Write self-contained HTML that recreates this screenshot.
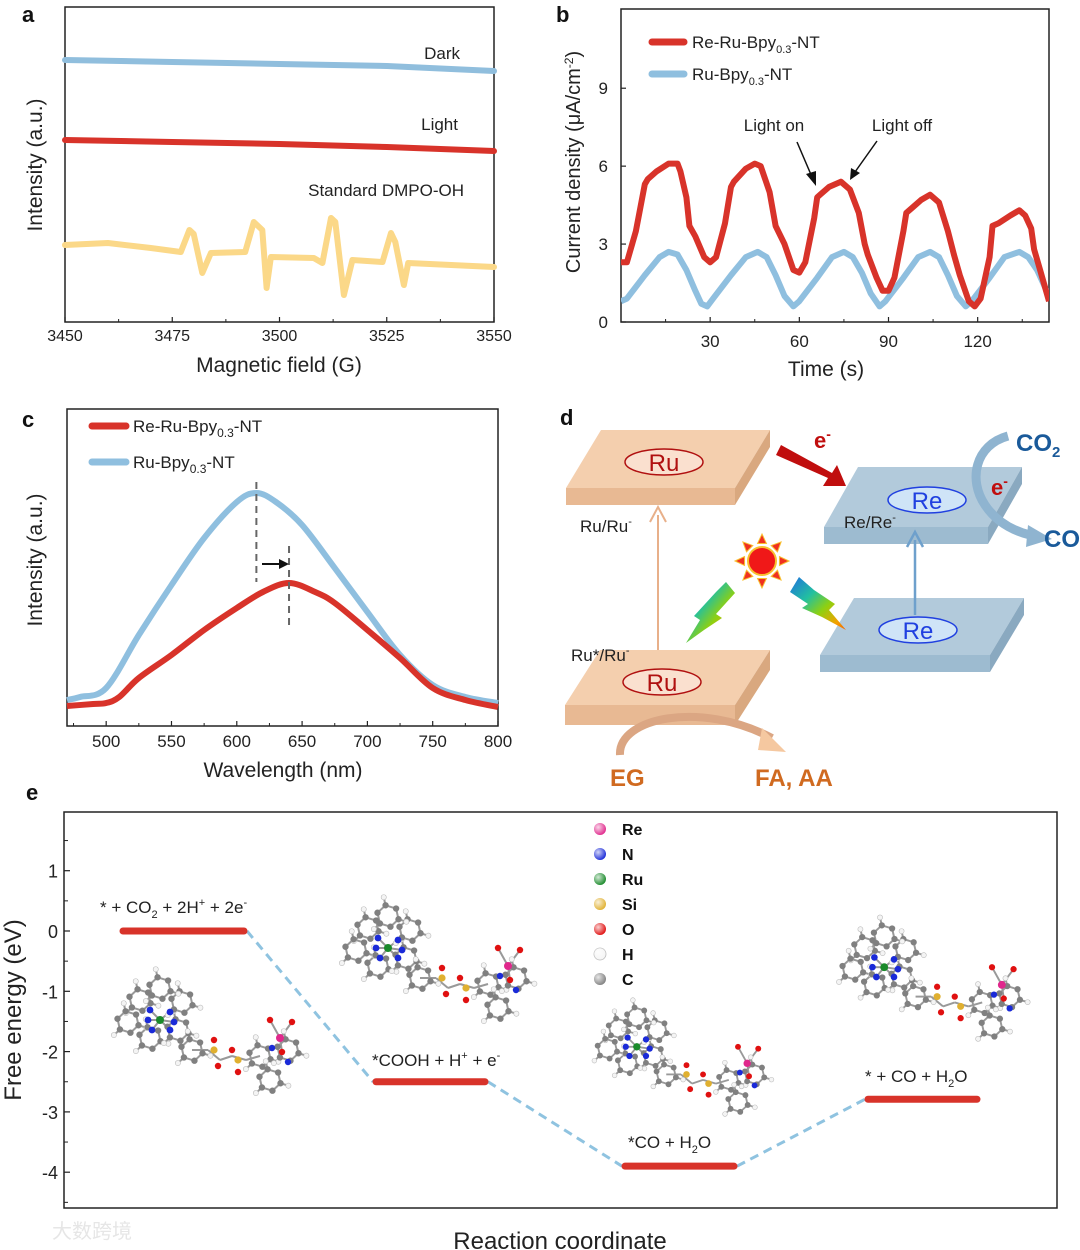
<!DOCTYPE html>
<html><head><meta charset="utf-8"><style>
html,body{margin:0;padding:0;background:#fff}
svg{display:block}
text{font-family:"Liberation Sans","Noto Sans CJK SC",sans-serif}
</style></head><body>
<svg id="fig" width="1080" height="1250" viewBox="0 0 1080 1250" xmlns="http://www.w3.org/2000/svg">
<defs>
<linearGradient id="bolt" x1="0" y1="0" x2="1" y2="1"><stop offset="0" stop-color="#1e6fe0"/><stop offset="0.35" stop-color="#22c0a0"/><stop offset="0.6" stop-color="#8fd010"/><stop offset="0.85" stop-color="#f5a000"/><stop offset="1" stop-color="#f06000"/></linearGradient>
<radialGradient id="ball" cx="0.35" cy="0.35" r="0.7"><stop offset="0" stop-color="#fff" stop-opacity="0.8"/><stop offset="1" stop-color="#fff" stop-opacity="0"/></radialGradient>
</defs>
<g id="root" fill="#222"></g>
</svg>
<script>
// ---------- Panel a data ----------
const aDarkX=[3450,3475,3500,3525,3550];
const aDarkY=[262,260,258,256,251];
const aLightX=[3450,3475,3500,3525,3550];
const aLightY=[182,180,178,175,171];
const aStdX=[3450,3460,3470,3477,3479,3480,3482,3484,3492,3494,3496,3497,3498,3508,3510,3512,3513,3515,3517,3524,3526,3527,3529,3530,3550];
const aStdY=[77,79,74,70,92,88,49,69,70,100,92,34,65,64,59,104,100,27,62,60,89,80,37,59,55];
const aTicks=[3450,3475,3500,3525,3550];
// ---------- Panel b data ----------
const bRedT=[0,2,5,8,9,12,16,18,19,20,22,23,25,28,30,32,35,37,38,42,45,47,50,52,55,58,60,62,65,66,67,70,74,77,80,82,83,86,88,90,92,95,96,98,101,104,107,110,112,114,117,119,121,124,125,127,131,134,136,138,139,141,144];
const bRedV=[2.3,2.3,3.5,5.3,5.5,5.8,6.1,6.1,6.1,5.8,4.8,3.7,3.3,2.5,2.3,2.5,3.8,5.2,5.4,5.9,6.1,6.0,5.0,3.7,3.0,2.0,1.9,2.3,4.0,4.8,4.9,5.2,5.4,5.1,4.2,3.0,2.6,1.7,1.2,1.2,1.7,3.5,4.2,4.4,4.7,4.9,4.6,3.5,2.6,1.8,0.8,0.6,0.9,2.5,3.7,3.8,4.1,4.3,4.1,3.6,2.8,2.0,0.8];
const bBlueT=[0,2,8,13,16,19,22,25,27,29,31,37,42,46,49,52,55,58,60,66,71,75,78,81,84,87,89,95,100,104,107,110,113,116,118,124,129,134,137,140,144];
const bBlueV=[0.8,0.9,1.8,2.5,2.7,2.6,2.0,1.2,0.7,0.6,0.9,1.8,2.5,2.7,2.5,1.8,1.0,0.6,0.8,1.7,2.5,2.7,2.5,1.9,1.1,0.6,0.8,1.7,2.5,2.7,2.5,1.8,1.0,0.6,0.8,1.7,2.5,2.7,2.5,2.0,1.0];
const bXTicks=[30,60,90,120];
const bYTicks=[0,3,6,9];
// ---------- Panel c data ----------
const cBlueX=[470,480,500,525,550,575,600,615,630,650,675,700,725,750,775,800];
const cBlueV=[26,29,38,91,141,188,224,233,224,201,158,114,71,41,29,23];
const cRedX=[470,490,500,510,525,550,575,600,620,640,660,675,700,725,750,775,800];
const cRedV=[20,22,23,29,48,71,96,118,134,143,134,123,96,68,38,26,19];
const cXTicks=[500,550,600,650,700,750,800];
// ---------- Panel e data ----------
const eStates=["* + CO2 + 2H+ + 2e-","*COOH + H+ + e-","*CO + H2O","* + CO + H2O"];
const eEnergy=[0,-2.5,-3.9,-2.79];
const eYTicks=[1,0,-1,-2,-3,-4];
const legendAtoms=["Re","N","Ru","Si","O","H","C"];
const legendColors=["#e0288c","#1a2ad8","#1a8a2a","#e0b030","#e01010","#f4f4f4","#808080"];

const NS="http://www.w3.org/2000/svg";
const root=document.getElementById('root');
function el(tag,attrs,parent){const e=document.createElementNS(NS,tag);for(const k in attrs)e.setAttribute(k,attrs[k]);(parent||root).appendChild(e);return e;}
function txt(s,x,y,size,attrs,parent){const t=el('text',Object.assign({x:x,y:y,'font-size':size},attrs||{}),parent);t.textContent=s;return t;}
function lin(d0,d1,r0,r1){return v=>r0+(v-d0)*(r1-r0)/(d1-d0);}
function pathD(xs,ys,fx,fy){return xs.map((x,i)=>(i?'L':'M')+fx(x).toFixed(1)+' '+fy(ys[i]).toFixed(1)).join(' ');}
function smoothD(xs,ys,fx,fy){const P=xs.map((x,i)=>[fx(x),fy(ys[i])]);let d='M'+P[0][0]+' '+P[0][1];for(let i=0;i<P.length-1;i++){const p0=P[i-1]||P[i],p1=P[i],p2=P[i+1],p3=P[i+2]||p2;d+=' C'+(p1[0]+(p2[0]-p0[0])/6)+' '+(p1[1]+(p2[1]-p0[1])/6)+' '+(p2[0]-(p3[0]-p1[0])/6)+' '+(p2[1]-(p3[1]-p1[1])/6)+' '+p2[0]+' '+p2[1];}return d;}

// ===== Panel a =====
(function(){
const g=el('g',{});


const L=65,R=494,T=7,B=322;
const fx=lin(3450,3550,L,R), fy=lin(0,315,B,T);
const lbl=txt('a',22,22,22,{'font-weight':'bold',fill:'#111'},g);

const frame=el('rect',{x:L,y:T,width:R-L,height:B-T,fill:'none',stroke:'#222','stroke-width':1.5},g);

const series=[[aDarkX,aDarkY,'#90bedd','dark-line'],[aLightX,aLightY,'#d8332a','light-line'],[aStdX,aStdY,'#fbd888','dmpo-oh-line']];
series.forEach(s=>{const p=el('path',{d:pathD(s[0],s[1],fx,fy),fill:'none',stroke:s[2],'stroke-width':6,'stroke-linejoin':'round','stroke-linecap':'round'},g);
});
aTicks.forEach((t,i)=>{el('line',{x1:fx(t),x2:fx(t),y1:B,y2:B-5,stroke:'#222','stroke-width':1.2},g);
if(i<aTicks.length-1)el('line',{x1:fx(t+12.5),x2:fx(t+12.5),y1:B,y2:B-3,stroke:'#222','stroke-width':1},g);
const tl=txt(String(t),fx(t),341,16,{'text-anchor':'middle'},g);});
const xt=txt('Magnetic field (G)',279,372,21,{'text-anchor':'middle'},g);
const yt=txt('Intensity (a.u.)',0,0,21,{'text-anchor':'middle',transform:'translate(42,165) rotate(-90)'},g);
const t1=txt('Dark',460,59,17,{'text-anchor':'end'},g);
const t2=txt('Light',458,130,17,{'text-anchor':'end'},g);
const t3=txt('Standard DMPO-OH',464,196,17,{'text-anchor':'end'},g);
})();

// ===== Panel b =====
(function(){
const g=el('g',{});


const L=621,R=1049,T=9,B=322;
const fx=lin(0,144,L,R), fy=lin(0,12.05,B,T);
const lbl=txt('b',556,22,22,{'font-weight':'bold',fill:'#111'},g);

const frame=el('rect',{x:L,y:T,width:R-L,height:B-T,fill:'none',stroke:'#222','stroke-width':1.5},g);

const cl=el('clipPath',{id:'clipb'},g);el('rect',{x:L,y:T,width:R-L,height:B-T},cl);
const b1=el('path',{d:pathD(bBlueT,bBlueV,fx,fy),fill:'none',stroke:'#8fbfdf','stroke-width':6,'stroke-linejoin':'round','clip-path':'url(#clipb)'},g);

const r1=el('path',{d:pathD(bRedT,bRedV,fx,fy),fill:'none',stroke:'#d8332a','stroke-width':6,'stroke-linejoin':'round','clip-path':'url(#clipb)'},g);

bXTicks.forEach(t=>{el('line',{x1:fx(t),x2:fx(t),y1:B,y2:B-5,stroke:'#222','stroke-width':1.2},g);
el('line',{x1:fx(t-15),x2:fx(t-15),y1:B,y2:B-3,stroke:'#222','stroke-width':1},g);
const tl=txt(String(t),fx(t),347,17,{'text-anchor':'middle'},g);});
el('line',{x1:fx(135),x2:fx(135),y1:B,y2:B-3,stroke:'#222','stroke-width':1},g);
bYTicks.forEach(t=>{el('line',{x1:L,x2:L+5,y1:fy(t),y2:fy(t),stroke:'#222','stroke-width':1.2},g);
const tl=txt(String(t),608,fy(t)+6,17,{'text-anchor':'end'},g);});
const xt=txt('Time (s)',826,376,21,{'text-anchor':'middle'},g);
const yt=el('text',{'font-size':20,'text-anchor':'middle',transform:'translate(580,162) rotate(-90)'},g);
yt.innerHTML='Current density (μA/cm<tspan dy="-7" font-size="12">-2</tspan><tspan dy="7">)</tspan>';

el('line',{x1:652,x2:684,y1:42,y2:42,stroke:'#d8332a','stroke-width':7,'stroke-linecap':'round'},g);
el('line',{x1:652,x2:684,y1:74,y2:74,stroke:'#8fbfdf','stroke-width':7,'stroke-linecap':'round'},g);
const l1=el('text',{x:692,y:48,'font-size':17},g);l1.innerHTML='Re-Ru-Bpy<tspan dy="5" font-size="11">0.3</tspan><tspan dy="-5">-NT</tspan>';

const l2=el('text',{x:692,y:80,'font-size':17},g);l2.innerHTML='Ru-Bpy<tspan dy="5" font-size="11">0.3</tspan><tspan dy="-5">-NT</tspan>';

const on=txt('Light on',774,131,17,{'text-anchor':'middle'},g);
const off=txt('Light off',902,131,17,{'text-anchor':'middle'},g);
el('line',{x1:797,y1:142,x2:812,y2:177,stroke:'#111','stroke-width':1.5},g);
el('polygon',{points:'816,186 806,174 816,171',fill:'#111'},g);
el('line',{x1:877,y1:141,x2:855,y2:172,stroke:'#111','stroke-width':1.5},g);
el('polygon',{points:'850,180 851,168 860,173',fill:'#111'},g);
})();

// ===== Panel c =====
(function(){
const g=el('g',{});


const L=67,R=498,T=409,B=726;
const fx=lin(470,800,L,R), fy=v=>B-v;
const lbl=txt('c',22,427,22,{'font-weight':'bold',fill:'#111'},g);

const frame=el('rect',{x:L,y:T,width:R-L,height:B-T,fill:'none',stroke:'#222','stroke-width':1.5},g);

const bl=el('path',{d:smoothD(cBlueX,cBlueV,fx,fy),fill:'none',stroke:'#8fbfdf','stroke-width':6},g);

const rd=el('path',{d:smoothD(cRedX,cRedV,fx,fy),fill:'none',stroke:'#d8332a','stroke-width':6},g);

el('line',{x1:fx(615),x2:fx(615),y1:482,y2:582,stroke:'#666','stroke-width':2,'stroke-dasharray':'7,5'},g);
el('line',{x1:fx(640),x2:fx(640),y1:546,y2:626,stroke:'#666','stroke-width':2,'stroke-dasharray':'7,5'},g);
el('line',{x1:262,x2:280,y1:564,y2:564,stroke:'#111','stroke-width':2},g);
el('polygon',{points:'289,564 279,559 279,569',fill:'#111'},g);
cXTicks.forEach(t=>{el('line',{x1:fx(t),x2:fx(t),y1:B,y2:B-5,stroke:'#222','stroke-width':1.2},g);
el('line',{x1:fx(t-25),x2:fx(t-25),y1:B,y2:B-3,stroke:'#222','stroke-width':1},g);
const tl=txt(String(t),fx(t),747,17,{'text-anchor':'middle'},g);});
const xt=txt('Wavelength (nm)',283,777,21,{'text-anchor':'middle'},g);
const yt=txt('Intensity (a.u.)',0,0,21,{'text-anchor':'middle',transform:'translate(42,560) rotate(-90)'},g);
el('line',{x1:92,x2:126,y1:426,y2:426,stroke:'#d8332a','stroke-width':7,'stroke-linecap':'round'},g);
el('line',{x1:92,x2:126,y1:462,y2:462,stroke:'#8fbfdf','stroke-width':7,'stroke-linecap':'round'},g);
const l1=el('text',{x:133,y:432,'font-size':17},g);l1.innerHTML='Re-Ru-Bpy<tspan dy="5" font-size="12">0.3</tspan><tspan dy="-5">-NT</tspan>';

const l2=el('text',{x:133,y:468,'font-size':17},g);l2.innerHTML='Ru-Bpy<tspan dy="5" font-size="12">0.3</tspan><tspan dy="-5">-NT</tspan>';

})();

// ===== Panel d (schematic) =====
(function(){
const g=el('g',{});


const lbl=txt('d',560,425,22,{'font-weight':'bold',fill:'#111'},g);

function slab(x0,x1,sh,y0,y1,th,top,side,front,name){
 const s=el('g',{},g);
 
 el('polygon',{points:`${x0+sh},${y0} ${x1+sh},${y0} ${x1},${y1} ${x0},${y1}`,fill:top},s);
 el('polygon',{points:`${x0},${y1} ${x1},${y1} ${x1},${y1+th} ${x0},${y1+th}`,fill:front},s);
 el('polygon',{points:`${x1},${y1} ${x1+sh},${y0} ${x1+sh},${y0+th} ${x1},${y1+th}`,fill:side},s);
}
slab(566,735,35,430,488,17,'#f4cfae','#d9a87f','#e8b993','ru-slab-top');
slab(565,735,35,650,705,20,'#f4cfae','#d9a87f','#e8b993','ru-slab-bottom');
slab(824,988,34,467,527,17,'#b2cadb','#8aa9c0','#9dbbd0','re-slab-top');
slab(820,990,34,598,655,17,'#b2cadb','#8aa9c0','#9dbbd0','re-slab-bottom');
function oval(cx,cy,s,c,f,name){const o=el('ellipse',{cx:cx,cy:cy,rx:39,ry:13,fill:f,stroke:c,'stroke-width':1.5},g);
 
 const t=txt(s,cx,cy+9,24,{'text-anchor':'middle',fill:c},g);}
oval(664,462,'Ru','#b01010','#fae0cf','ru-top');
oval(662,682,'Ru','#b01010','#fae0cf','ru-bottom');
oval(927,500,'Re','#2040e0','#cfe4f7','re-top');
oval(918,630,'Re','#2040e0','#cfe4f7','re-bottom');
el('line',{x1:658,x2:658,y1:650,y2:515,stroke:'#e8b08a','stroke-width':2},g);
el('polyline',{points:'650,522 658,507 666,522',fill:'none',stroke:'#e8b08a','stroke-width':2},g);
el('line',{x1:915,x2:915,y1:615,y2:540,stroke:'#6ea0cc','stroke-width':2.5},g);
el('polyline',{points:'907,547 915,532 923,547',fill:'none',stroke:'#6ea0cc','stroke-width':2.5},g);
el('polygon',{points:'776,455 781,445 832,473 837,465 846,486 823,486 828,478',fill:'#c00e0e'},g);
const e1=el('text',{x:814,y:448,'font-size':22,'font-weight':'bold',fill:'#c00e0e'},g);e1.innerHTML='e<tspan dy="-9" font-size="14">-</tspan>';

const sun=el('g',{},g);
for(let k=0;k<8;k++){const a=k*Math.PI/4;const cx=762,cy=561;
 const px=cx+Math.cos(a)*27,py=cy+Math.sin(a)*27,b1x=cx+Math.cos(a+0.25)*18,b1y=cy+Math.sin(a+0.25)*18,b2x=cx+Math.cos(a-0.25)*18,b2y=cy+Math.sin(a-0.25)*18;
 el('polygon',{points:`${px},${py} ${b1x},${b1y} ${b2x},${b2y}`,fill:'#f03020',stroke:'#f8c030','stroke-width':1},sun);}
el('circle',{cx:762,cy:561,r:14,fill:'#f01818',stroke:'#f8c030','stroke-width':2},sun);
const bo1=el('polygon',{points:'726,582 735,593 716,614 722,618 704,630 686,643 700,620 694,616 716,592',fill:'url(#bolt)'},g);

const bo2=el('polygon',{points:'799,577 790,592 808,604 802,608 822,617 846,630 829,610 835,604 814,590',fill:'url(#bolt)'},g);

const a1=el('text',{x:580,y:532,'font-size':17},g);a1.innerHTML='Ru/Ru<tspan dy="-7" font-size="11">-</tspan>';
const a2=el('text',{x:571,y:661,'font-size':17},g);a2.innerHTML='Ru*/Ru<tspan dy="-7" font-size="11">-</tspan>';
const a3=el('text',{x:844,y:528,'font-size':17},g);a3.innerHTML='Re/Re<tspan dy="-7" font-size="11">-</tspan>';
el('path',{d:'M1008,436 C975,445 968,480 985,505 C995,520 1010,530 1030,535',fill:'none',stroke:'#8fb4d0','stroke-width':9,'stroke-linecap':'butt'},g);
el('polygon',{points:'1028,525 1052,539 1026,547',fill:'#8fb4d0'},g);
const co2=el('text',{x:1016,y:451,'font-size':24,'font-weight':'bold',fill:'#1a5a9a'},g);co2.innerHTML='CO<tspan dy="6" font-size="15">2</tspan>';

const co=txt('CO',1044,547,24,{'font-weight':'bold',fill:'#1a5a9a'},g);
const e2=el('text',{x:991,y:495,'font-size':22,'font-weight':'bold',fill:'#c00e0e'},g);e2.innerHTML='e<tspan dy="-9" font-size="14">-</tspan>';

const ega=el('path',{d:'M620,755 C618,718 700,700 772,738',fill:'none',stroke:'#dba683','stroke-width':8},g);

el('polygon',{points:'762,728 786,752 758,750',fill:'#f5c8a0'},g);
const eg=txt('EG',610,786,24,{'font-weight':'bold',fill:'#d06a20'},g);
const fa=txt('FA, AA',755,786,24,{'font-weight':'bold',fill:'#d06a20'},g);
})();

// ===== Panel e =====
(function(){
const g=el('g',{});


const L=64,R=1057,T=812,B=1208;
const fy=lin(0,-1,931,991.3);
const lvlX=[[120,247],[373,488],[622,737],[865,980]];
const lbl=txt('e',26,800,22,{'font-weight':'bold',fill:'#111'},g);

const frame=el('rect',{x:L,y:T,width:R-L,height:B-T,fill:'none',stroke:'#222','stroke-width':1.5},g);

eYTicks.forEach(t=>{el('line',{x1:L,x2:L+6,y1:fy(t),y2:fy(t),stroke:'#222','stroke-width':1.2},g);
el('line',{x1:L,x2:L+4,y1:fy(t+0.5),y2:fy(t+0.5),stroke:'#222','stroke-width':1},g);
const tl=txt(String(t),58,fy(t)+7,18,{'text-anchor':'end'},g);});
el('line',{x1:L,x2:L+4,y1:fy(-4.5),y2:fy(-4.5),stroke:'#222','stroke-width':1},g);
const yt=txt('Free energy (eV)',0,0,24,{'text-anchor':'middle',transform:'translate(21,1010) rotate(-90)'},g);
const xt=txt('Reaction coordinate',560,1249,24,{'text-anchor':'middle'},g);
for(let i=0;i<eEnergy.length-1;i++){const c=el('line',{x1:lvlX[i][1],y1:fy(eEnergy[i]),x2:lvlX[i+1][0],y2:fy(eEnergy[i+1]),stroke:'#8fc3e0','stroke-width':3,'stroke-dasharray':'9,6'},g);
}
eEnergy.forEach((v,i)=>{const b=el('line',{x1:lvlX[i][0]+3,x2:lvlX[i][1]-3,y1:fy(v),y2:fy(v),stroke:'#d8332a','stroke-width':7,'stroke-linecap':'round'},g);
});
const labs=['* + CO<tspan dy="5" font-size="11">2</tspan><tspan dy="-5"> + 2H</tspan><tspan dy="-7" font-size="11">+</tspan><tspan dy="7"> + 2e</tspan><tspan dy="-7" font-size="11">-</tspan>',
'*COOH + H<tspan dy="-7" font-size="11">+</tspan><tspan dy="7"> + e</tspan><tspan dy="-7" font-size="11">-</tspan>',
'*CO + H<tspan dy="5" font-size="11">2</tspan><tspan dy="-5">O</tspan>',
'* + CO + H<tspan dy="5" font-size="11">2</tspan><tspan dy="-5">O</tspan>'];
const labPos=[[100,913],[372,1066],[628,1148],[865,1082]];
labs.forEach((h,i)=>{const t=el('text',{x:labPos[i][0],y:labPos[i][1],'font-size':17},g);t.innerHTML=h;
});
legendAtoms.forEach((a,i)=>{const y=829+i*25;
const c=el('circle',{cx:600,cy:y,r:6,fill:legendColors[i],stroke:i==5?'#bbb':'none','stroke-width':0.8},g);

el('circle',{cx:600,cy:y,r:6,fill:'url(#ball)'},g);
const t=txt(a,622,y+6,16,{'font-weight':'bold',fill:'#111'},g);});
function ring(cx,cy,r,n,rot){const p=[];for(let k=0;k<n;k++){const a=rot+k*2*Math.PI/n;p.push([cx+Math.cos(a)*r,cy+Math.sin(a)*r]);}return p;}
function molecule(ox,oy,s,name){
 const m=el('g',{transform:`translate(${ox},${oy}) scale(${s})`},g);
 
 const atoms=[];const bonds=[];
 const rings=[[20,20],[8,42],[30,58],[58,50],[62,22],[40,8],[72,70],[140,76],[168,70],[150,100]];
 rings.forEach(rc=>{const p=ring(rc[0],rc[1],11,6,0.3);p.forEach((q,k)=>{atoms.push([q[0],q[1],'#808080',3.2]);bonds.push([q,p[(k+1)%6]]);
   const h=[rc[0]+(q[0]-rc[0])*1.75,rc[1]+(q[1]-rc[1])*1.75];if(k%2==0){atoms.push([h[0],h[1],'#f4f4f4',2.6]);bonds.push([q,h]);}});});
 const ru=[40,40];
 [[30,30],[50,32],[32,50],[50,50],[28,40],[54,42]].forEach(n=>{atoms.push([n[0],n[1],'#1a2ad8',3.4]);bonds.push([ru,n]);});
 atoms.push([ru[0],ru[1],'#1a8a2a',4]);
 const chain=[[72,70],[88,70],[100,80],[112,76],[126,80],[140,76]];
 for(let k=0;k<chain.length-1;k++)bonds.push([chain[k],chain[k+1]]);
 atoms.push([94,70,'#e0b030',3.6],[118,80,'#e0b030',3.6],[94,60,'#e01010',3.2],[98,86,'#e01010',3.2],[112,70,'#e01010',3.2],[118,92,'#e01010',3.2]);
 const re=[160,58];atoms.push([re[0],re[1],'#e0288c',4]);
 [[150,40],[172,42],[162,72]].forEach(o=>{bonds.push([re,o]);atoms.push([o[0],o[1],'#e01010',3.2]);});
 atoms.push([152,68,'#1a2ad8',3.2],[168,82,'#1a2ad8',3.2]);
 bonds.forEach(b=>el('line',{x1:b[0][0],y1:b[0][1],x2:b[1][0],y2:b[1][1],stroke:'#999','stroke-width':2},m));
 atoms.forEach(a=>{el('circle',{cx:a[0],cy:a[1],r:a[3],fill:a[2],stroke:a[2]=='#f4f4f4'?'#bbb':'none','stroke-width':0.6},m);});
}
molecule(120,980,1.0,'molecule-initial');
molecule(348,908,1.0,'molecule-cooh');
molecule(600,1010,0.92,'molecule-co');
molecule(845,928,0.98,'molecule-final');
})();
const wm=txt('大数跨境',52,1238,20,{fill:'#e6e6e6'});


</script>
</body></html>
